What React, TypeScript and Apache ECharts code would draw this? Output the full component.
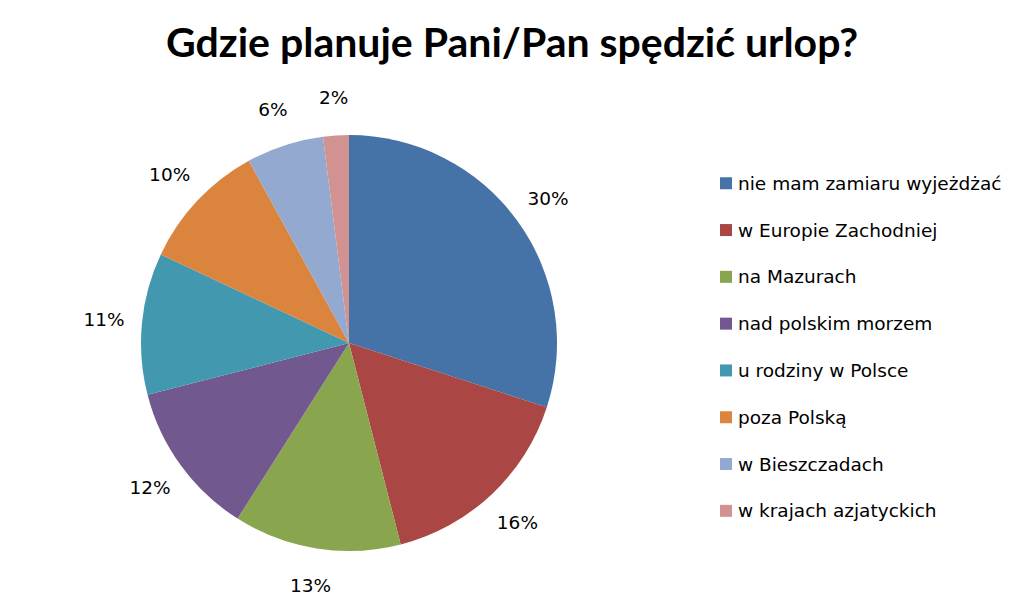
import React, { useEffect, useRef } from 'react';
import * as echarts from 'echarts';

const categories = [
  'nie mam zamiaru wyjeżdżać',
  'w Europie Zachodniej',
  'na Mazurach',
  'nad polskim morzem',
  'u rodziny w Polsce',
  'poza Polską',
  'w Bieszczadach',
  'w krajach azjatyckich',
];
const shares = [30, 16, 13, 12, 11, 10, 6, 2];
const sliceColors = ['#4572A7', '#AA4643', '#89A54E', '#71588F', '#4198AF', '#DB843D', '#93A9CF', '#D19392'];

const FONT = '"DejaVu Sans", "Open Sans", sans-serif';

export default function App() {
  const chartRef = useRef<HTMLDivElement>(null);

  useEffect(() => {
    if (!chartRef.current) return;
    const chart = echarts.init(chartRef.current, undefined, { renderer: 'svg' });

    const data = categories.map((name, i) => ({
      name,
      value: shares[i],
      itemStyle: { color: sliceColors[i] },
    }));

    chart.setOption({
      animation: false,
      backgroundColor: '#ffffff',
      title: {
        text: 'Gdzie planuje Pani/Pan spędzić urlop?',
        left: 'center',
        top: 16,
        textStyle: { fontFamily: 'Lato, sans-serif', fontSize: 41, fontWeight: 'bold', color: '#000000' },
      },
      legend: {
        orient: 'vertical',
        left: 715,
        top: 168,
        itemWidth: 12,
        itemHeight: 12,
        itemGap: 26.3,
        icon: 'rect',
        data: categories,
        textStyle: { fontFamily: FONT, fontSize: 18.5, lineHeight: 20.5, color: '#000000', padding: [0, 0, 0, 1] },
      },
      series: [
        {
          type: 'pie',
          center: [349, 343],
          radius: [0, 208],
          startAngle: 90,
          clockwise: true,
          data,
          label: { show: false },
          labelLine: { show: false },
          emphasis: { disabled: true },
        },
        {
          // invisible ring, only used to centre the percentage labels outside the pie
          type: 'pie',
          center: [349, 343],
          radius: [208, 278],
          startAngle: 90,
          clockwise: true,
          silent: true,
          data: categories.map((name, i) => ({ name, value: shares[i] })),
          itemStyle: { color: 'rgba(0,0,0,0)' },
          label: {
            show: true,
            position: 'inside',
            formatter: '{c}%',
            fontFamily: FONT,
            fontSize: 18.5,
            color: '#000000',
          },
          labelLine: { show: false },
          emphasis: { disabled: true },
        },
      ],
    });

    return () => chart.dispose();
  }, []);

  return (
    <div
      ref={chartRef}
      style={{ position: 'absolute', left: 0, top: 0, width: 1024, height: 609 }}
    />
  );
}
